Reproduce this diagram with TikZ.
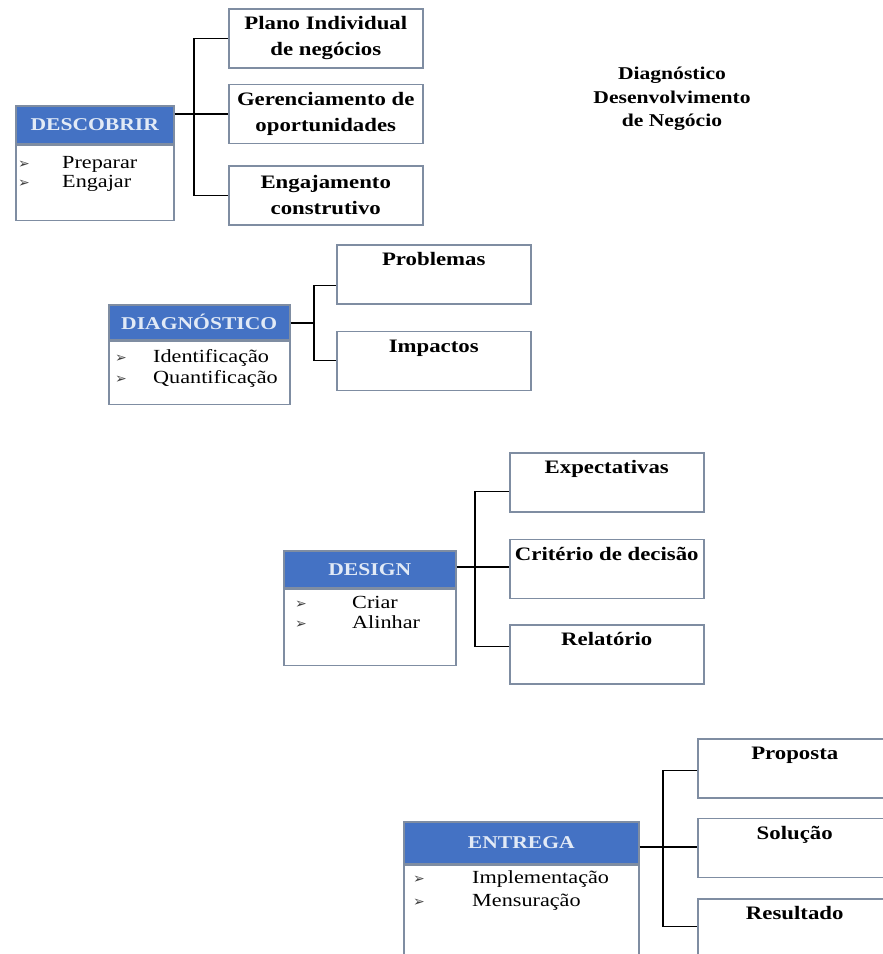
\documentclass[tikz,border=0pt]{standalone}
\usepackage{fontspec}
\setmainfont[FakeStretch=1.2]{Liberation Serif}
\newfontfamily\arrowfont{DejaVu Sans}
\usetikzlibrary{positioning}
\definecolor{hdrblue}{HTML}{4472C4}
\definecolor{hdrtext}{HTML}{E2EAF6}
\definecolor{boxline}{HTML}{7F8DA2}
\newcommand{\itm}{{\arrowfont\fontsize{14}{14}\selectfont\color{darkgray}➢}}
\newcommand{\twoitems}[4]{{\fontsize{18.5}{#2}\selectfont\vtop{\hbox{\makebox[#1][l]{\itm}#3}\hbox{\makebox[#1][l]{\itm}#4}}}}

\begin{document}
\begin{tikzpicture}[x=1pt,y=-1pt,node distance=20pt,
    stephead/.style={draw=boxline,line width=1.5pt,fill=hdrblue,text=hdrtext,font=\bfseries\fontsize{18}{20}\selectfont,anchor=north west,inner sep=0pt},
    stepbody/.style={draw=boxline,line width=1.5pt,anchor=north west,inner sep=0pt},
    leaf/.style={draw=boxline,line width=1.5pt,minimum width=194pt,minimum height=59pt,inner sep=0pt,align=center,font=\bfseries\fontsize{19}{26}\selectfont},
    leaftop/.style={leaf,text height=21pt,text depth=38pt},
    wire/.style={line width=1.2pt}]
          \useasboundingbox (0,0) rectangle (883,954);
          \clip (0,0) rectangle (883,954);
          \node[align=center,font=\bfseries\fontsize{18}{23.5}\selectfont] (title) at (672,99) {Diagnóstico\\Desenvolvimento\\de Negócio};

          \node[stephead,minimum width=158pt,minimum height=38pt] (descHead) at (15,105) {DESCOBRIR};
          \node[stepbody,minimum width=158pt,minimum height=75pt] (descBody) at (descHead.south west) {};
          \node[anchor=base west,inner sep=0pt] (descList) at (18,168) {\twoitems{44pt}{19pt}{Preparar}{Engajar}};
          \node[leaf,anchor=north west] (plano) at (228,8) {Plano Individual\\de negócios};
          \node[leaf,below=15pt of plano] (geren) {Gerenciamento de\\oportunidades};
          \node[leaf,below=21pt of geren] (engaj) {Engajamento\\construtivo};
          \coordinate (jA) at (194,114);
          \draw[wire] (descHead.east |- jA) -- (jA);
          \draw[wire] (plano.west) -| (jA) |- (engaj.west);
          \draw[wire] (jA) -- (geren.west |- jA);

          \node[stephead,minimum width=181pt,minimum height=35pt] (diagHead) at (108,304) {DIAGNÓSTICO};
          \node[stepbody,minimum width=181pt,minimum height=63pt] (diagBody) at (diagHead.south west) {};
          \node[anchor=base west,inner sep=0pt] (diagList) at (115,362) {\twoitems{38pt}{21pt}{Identificação}{Quantificação}};
          \node[leaftop,anchor=north west] (prob) at (336,244) {Problemas};
          \node[leaftop,below=26pt of prob] (impac) {Impactos};
          \coordinate (jB) at (314,323);
          \draw[wire] (diagHead.east |- jB) -- (jB);
          \draw[wire] ([yshift=-11pt]prob.west) -| (jB) |- (impac.west);

          \node[stephead,minimum width=172pt,minimum height=37pt] (desHead) at (283,550) {DESIGN};
          \node[stepbody,minimum width=172pt,minimum height=76pt] (desBody) at (desHead.south west) {};
          \node[anchor=base west,inner sep=0pt] (desList) at (295,608) {\twoitems{57pt}{20pt}{Criar}{Alinhar}};
          \node[leaftop,anchor=north west] (expec) at (509,452) {Expectativas};
          \node[leaftop,below=26pt of expec] (crit) {Critério de decisão};
          \node[leaftop,below=25pt of crit] (relat) {Relatório};
          \coordinate (jC) at (475,567);
          \draw[wire] (desHead.east |- jC) -- (jC);
          \draw[wire] ([yshift=-9.5pt]expec.west) -| (jC) |- ([yshift=7.5pt]relat.west);
          \draw[wire] (jC) -- (crit.west |- jC);

          \node[stephead,minimum width=235pt,minimum height=42pt] (entHead) at (403,821) {ENTREGA};
          \node[stepbody,minimum width=235pt,minimum height=120pt] (entBody) at (entHead.south west) {};
          \node[anchor=base west,inner sep=0pt] (entList) at (413,883) {\twoitems{59pt}{23pt}{Implementação}{Mensuração}};
          \node[leaftop,anchor=north west] (prop) at (697,738) {Proposta};
          \node[leaftop,below=19pt of prop] (solu) {Solução};
          \node[leaftop,below=20pt of solu] (resul) {Resultado};
          \coordinate (jD) at (663,847);
          \draw[wire] (entHead.east |- jD) -- (jD);
          \draw[wire] ([yshift=-2.5pt]prop.west) -| (jD) |- ([yshift=1.5pt]resul.west);
          \draw[wire] (jD) -- (solu.west |- jD);
        \end{tikzpicture}
\end{document}
